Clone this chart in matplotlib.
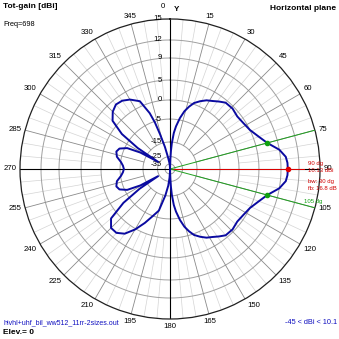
import numpy as np
import matplotlib.pyplot as plt

plt.rcParams["font.family"] = ["Liberation Sans", "DejaVu Sans"]

# dB rings of the (non-linear) radial scale, and where they sit (fraction of outer circle)
ring_db = [-35, -25, -15, -5, 0, 5, 9, 12, 15]
ring_pos = [0.033, 0.083, 0.18, 0.333, 0.46, 0.593, 0.74, 0.86, 1.0]
min_db = -45

angle_ticks = list(range(0, 360, 15))

# pattern: azimuth (deg, clockwise from Y) and gain (dBi)
pattern_deg = [0, 1, 2, 3, 4, 6, 8, 11, 14, 17, 20, 24, 28, 32, 36, 40, 46, 52, 58,
               64, 70, 75, 80, 84, 87, 90, 93, 96, 100, 105, 110, 116, 122, 128,
               134, 140, 144, 148, 152, 156, 160, 163, 166, 169, 172, 174, 176,
               177, 178, 179, 180, 181, 183, 186, 190, 195, 200, 205, 210, 215,
               220, 225, 230, 234, 237, 239, 241, 244, 248, 252, 257, 262, 266,
               270, 274, 278, 283, 288, 292, 296, 299, 301, 303, 306, 310, 315,
               320, 325, 330, 336, 340, 342, 344, 347, 350, 354, 357, 360]
pattern_dbi = [-45, -38, -28, -21, -16, -11, -8, -4.5, -2.5, -1, 0.3, 1.3, 2.2, 2.8,
               3.6, 4.4, 4.5, 4.1, 4.4, 5.0, 6.0, 7.13, 9.0, 9.9, 10.1, 10.13, 10.1,
               9.9, 9.0, 7.13, 6.0, 5.0, 4.4, 4.1, 4.5, 4.4, 3.6, 2.8, 2.2, 1.3, 0.3,
               -1, -2.5, -4.5, -8, -11, -16, -21, -28, -38, -45, -38, -30, -22, -15,
               -8, -5, -2.5, 0.2, 2.5, 3.6, 3.6, 2.0, -3, -11, -24, -12, -6, -3.8,
               -3.3, -3.8, -5.2, -6.2, -6.67, -6.2, -5.2, -3.8, -3.3, -3.8, -6,
               -12, -24, -10, -2.5, 1.5, 3.0, 3.8, 3.6, 2.8, 1.3, -2.5, -5.4, -11, -18,
               -25, -33, -38, -45]

peak_deg = 90
peak_dbi = 10.13
hp_deg = [75, 105]
hp_dbi = 7.13


def to_r(db):
    return np.interp(db, [min_db] + ring_db, [0.0] + ring_pos)


fig = plt.figure(figsize=(3.39, 3.39), dpi=100)
ax = fig.add_axes([0.059, 0.059, 0.885, 0.885], projection="polar")
ax.set_theta_zero_location("N")
ax.set_theta_direction(-1)
ax.set_ylim(0, 1)
ax.grid(False)
ax.set_xticks([])
ax.set_yticks([])
ax.spines["polar"].set_color("#202020")
ax.spines["polar"].set_linewidth(0.9)

full = np.radians(np.linspace(0, 360, 361))
for p in ring_pos[:-1]:
    ax.plot(full, np.full_like(full, p), color="#a0a0a0", lw=0.7, zorder=1)

# spokes: light every 5 deg, darker every 15, black axes
for a in range(0, 360, 5):
    t = np.radians(a)
    if a % 90 == 0:
        ax.plot([t, t], [0, 1], color="black", lw=0.8, zorder=2)
    elif a % 15 == 0:
        ax.plot([t, t], [to_r(-15), 1], color="#8a8a8a", lw=0.6, zorder=1)
    else:
        ax.plot([t, t], [to_r(0), 1], color="#d4d4d4", lw=0.5, zorder=0)

# angle labels
for a in angle_ticks:
    if a == 0:
        continue
    s, c = np.sin(np.radians(a)), np.cos(np.radians(a))
    ha = "left" if s > 0.3 else ("right" if s < -0.3 else "center")
    va = "bottom" if c > 0.3 else ("top" if c < -0.3 else "center")
    ax.text(np.radians(a), 1.025, str(a), ha=ha, va=va, fontsize=5.6)
ax.annotate("0", xy=(0, 1), xytext=(-7, 12), textcoords="offset pixels",
            ha="center", va="center", fontsize=5.6)
ax.annotate("Y", xy=(0, 1), xytext=(7, 9), textcoords="offset pixels",
            ha="center", va="center", fontsize=5.8, fontweight="bold")

# dB ring labels along the 0 axis
for d, p in zip(ring_db, ring_pos):
    ax.annotate(str(d), xy=(0, p), xytext=(-8, 0), textcoords="offset pixels",
                ha="right", va="center", fontsize=5.6)

# markers for beam
ax.plot([np.radians(peak_deg)] * 2, [0, 0.89], color="#e00000", lw=0.7, zorder=3)
for h in hp_deg:
    ax.plot([np.radians(h)] * 2, [0, 1.0], color="#20a020", lw=0.7, zorder=3)

theta = np.radians(pattern_deg)
ax.plot(theta, to_r(pattern_dbi), color="#0a0aa0", lw=1.4, zorder=4)

ax.plot(np.radians(peak_deg), to_r(peak_dbi), "o", color="#e00000", ms=3, zorder=5)
ax.plot(np.radians(hp_deg), to_r([hp_dbi, hp_dbi]), "o", color="#10a010", ms=3, zorder=5)
ax.set_clip_on(False)

# annotations around the plot
fs_small = 4.3
fig.text(308 / 339, 1 - 163 / 339, f"{peak_deg} dg", color="#d00000", fontsize=fs_small, va="center")
fig.text(308 / 339, 1 - 171 / 339, f"{peak_dbi} dBi", color="#d00000", fontsize=fs_small, va="center")
fig.text(308 / 339, 1 - 181 / 339, "bw: 30 dg", color="#d00000", fontsize=fs_small, va="center")
fig.text(308 / 339, 1 - 189 / 339, "fb: 16.8 dB", color="#d00000", fontsize=fs_small, va="center")
fig.text(304 / 339, 1 - 202 / 339, f"{hp_deg[1]} dg", color="#10a010", fontsize=fs_small, va="center")

fig.text(3 / 339, 1 - 7 / 339, "Tot-gain [dBi]", fontsize=6, fontweight="bold", va="center")
fig.text(336 / 339, 1 - 8 / 339, "Horizontal plane", fontsize=6, fontweight="bold",
         va="center", ha="right")
fig.text(3 / 339, 1 - 24 / 339, "Freq=698", fontsize=5.3, va="center")
fig.text(3 / 339, 1 - 323 / 339, "hivhl+uhf_bil_ww512_11rr-2sizes.out", fontsize=5,
         color="#1010c0", va="center")
fig.text(3 / 339, 1 - 333 / 339, "Elev.= 0", fontsize=6, fontweight="bold", va="center")
fig.text(337 / 339, 1 - 323 / 339, "-45 < dBi < 10.1", fontsize=5.3, color="#1010c0",
         va="center", ha="right")

fig.savefig("out.png", dpi=100)
